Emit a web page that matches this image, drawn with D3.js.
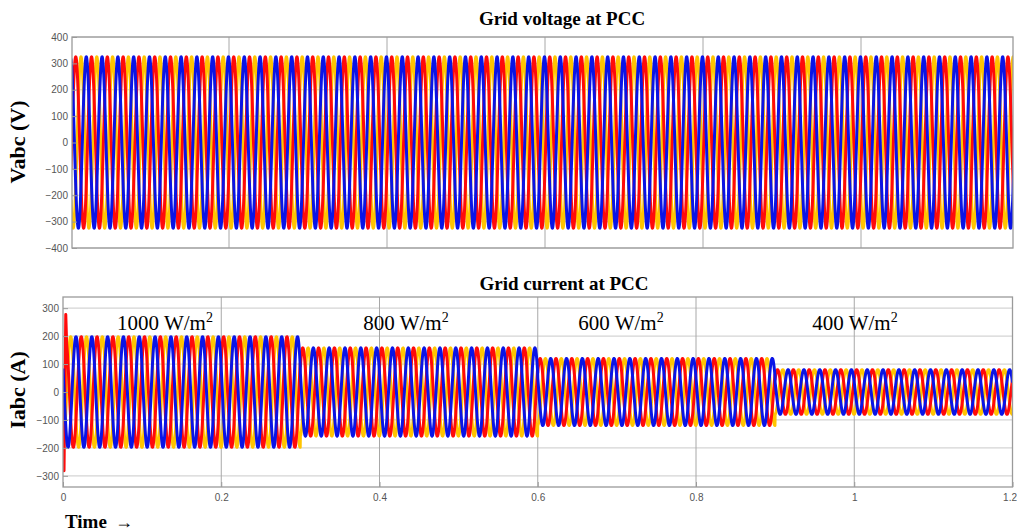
<!DOCTYPE html>
<html>
<head>
<meta charset="utf-8">
<script src="https://cdn.jsdelivr.net/npm/d3@7"></script>
<style>
  html, body { margin: 0; padding: 0; background: #fff; }
  svg { display: block; }
  .tick text { font-family: Arial, "Liberation Sans", sans-serif; font-size: 10px; fill: #555; }
</style>
</head>
<body>
<svg id="chart" width="1017" height="531"></svg>
<script>
// ---------------- data ----------------
const timeTicks = [0, 0.2, 0.4, 0.6, 0.8, 1, 1.2];
const timeTickLabels = ["0", "0.2", "0.4", "0.6", "0.8", "1", "1.2"];
const voltageTicks = [-400, -300, -200, -100, 0, 100, 200, 300, 400];
const currentTicks = [-300, -200, -100, 0, 100, 200, 300];
const phaseNames = ["a", "b", "c"];
const phaseColors = ["#ff0a0a", "#ffc400", "#0a14e6"];
const gridFrequencyHz = 50;
const voltagePeak = 325;              // V
const voltagePhaseDeg = [-18, 222, 102];
const currentPhaseDeg = [35, 275, 155];
const irradianceLevels = [1000, 800, 600, 400];   // W/m^2
const stepStartTimes = [0, 0.3, 0.6, 0.9];
const currentPeaks = [198, 158, 120, 80];         // A, per irradiance level
const redStartTransient = [[0, -150], [0.0013, -282], [0.0035, 277]];
const transientEnd = 0.0045;
const simEnd = 1.2;
const sampleStep = 0.0002;

(function () {
// ---------------- layout ----------------
const svg = d3.select("#chart");
const topBox = { x0: 72, x1: 1013, y0: 37, y1: 248 };
const botBox = { x0: 63, x1: 1012.5, y0: 297, y1: 487 };

const xTop = d3.scaleLinear().domain([0, 1.2]).range([71, 1019]);
const yTop = d3.scaleLinear().domain([-400, 400]).range([topBox.y1, topBox.y0]);
const xBot = d3.scaleLinear().domain([0, 1.2]).range([botBox.x0, botBox.x1]);
const yBot = d3.scaleLinear().domain([-340, 340]).range([botBox.y1, botBox.y0]);

const times = d3.range(0, simEnd + 1e-9, sampleStep);
const w = 2 * Math.PI * gridFrequencyHz;
const rad = d => d * Math.PI / 180;

function ampAt(t) {
  let i = d3.bisectRight(stepStartTimes, t) - 1;
  return currentPeaks[Math.max(0, i)];
}

const voltageSeries = phaseNames.map((p, k) =>
  times.map(t => [t, voltagePeak * Math.sin(w * t + rad(voltagePhaseDeg[k]))]));

const currentSeries = phaseNames.map((p, k) => {
  let pts = times.map(t => [t, ampAt(t) * Math.sin(w * t + rad(currentPhaseDeg[k]))]);
  if (k === 0) {
    pts = redStartTransient.concat(pts.filter(d => d[0] >= transientEnd));
  }
  return pts;
});

// ---------------- panel drawing ----------------
function panel(box, x, y, yTicks, series, showX, clipId) {
  const g = svg.append("g");
  const xr = box.x1;
  g.append("rect").attr("x", box.x0).attr("y", box.y0)
    .attr("width", xr - box.x0).attr("height", box.y1 - box.y0).attr("fill", "#fff");

  svg.append("clipPath").attr("id", clipId).append("rect")
    .attr("x", box.x0).attr("y", box.y0).attr("width", xr - box.x0).attr("height", box.y1 - box.y0);

  // horizontal grid
  g.append("g").selectAll("line").data(yTicks).join("line")
    .attr("x1", box.x0).attr("x2", xr)
    .attr("y1", d => y(d)).attr("y2", d => y(d))
    .attr("stroke", "#d4d4d4").attr("stroke-width", 1.2);
  // vertical grid
  g.append("g").selectAll("line").data(timeTicks.filter(t => t > 0 && x(t) < xr - 2)).join("line")
    .attr("x1", d => x(d)).attr("x2", d => x(d))
    .attr("y1", box.y0).attr("y2", box.y1)
    .attr("stroke", "#a8a8a8").attr("stroke-width", 1);

  // waveforms: yellow, red, blue (blue on top)
  const line = d3.line().x(d => x(d[0])).y(d => y(d[1]));
  const order = [1, 0, 2];
  const wg = g.append("g").attr("clip-path", `url(#${clipId})`);
  order.forEach(k => {
    wg.append("path").datum(series[k])
      .attr("d", line).attr("fill", "none")
      .attr("stroke", phaseColors[k]).attr("stroke-width", 3)
      .attr("stroke-linejoin", "round");
  });

  // frame
  g.append("rect").attr("x", box.x0).attr("y", box.y0)
    .attr("width", xr - box.x0).attr("height", box.y1 - box.y0)
    .attr("fill", "none").attr("stroke", "#9a9a9a").attr("stroke-width", 1.3);

  // y axis
  const ya = g.append("g").attr("transform", `translate(${box.x0},0)`)
    .call(d3.axisLeft(y).tickValues(yTicks).tickSize(-5).tickPadding(4).tickFormat(d3.format("d")));
  ya.select(".domain").remove();
  ya.selectAll(".tick line").attr("stroke", "#9a9a9a");

  if (showX) {
    const xa = g.append("g").attr("transform", `translate(0,${box.y1})`)
      .call(d3.axisBottom(x).tickValues(timeTicks).tickSize(-5).tickPadding(7)
        .tickFormat((d, i) => timeTickLabels[i]));
    xa.select(".domain").remove();
    xa.selectAll(".tick line").attr("stroke", "#9a9a9a");
    xa.selectAll(".tick text").filter(d => d === timeTicks[timeTicks.length - 1])
      .attr("text-anchor", "end").attr("dx", 4);
  }
  return g;
}

panel(topBox, xTop, yTop, voltageTicks, voltageSeries, false, "clipTop");
panel(botBox, xBot, yBot, currentTicks, currentSeries, true, "clipBot");

// ---------------- texts ----------------
const serif = "'Liberation Serif', 'Times New Roman', serif";
svg.append("text").attr("x", 562).attr("y", 25).attr("text-anchor", "middle")
  .attr("font-family", serif).attr("font-weight", "bold").attr("font-size", 19)
  .text("Grid voltage at PCC");
svg.append("text").attr("x", 564).attr("y", 290).attr("text-anchor", "middle")
  .attr("font-family", serif).attr("font-weight", "bold").attr("font-size", 19)
  .text("Grid current at PCC");

svg.append("text").attr("transform", "translate(25,142) rotate(-90)").attr("text-anchor", "middle")
  .attr("font-family", serif).attr("font-weight", "bold").attr("font-size", 22)
  .text("Vabc (V)");
svg.append("text").attr("transform", "translate(25,390) rotate(-90)").attr("text-anchor", "middle")
  .attr("font-family", serif).attr("font-weight", "bold").attr("font-size", 22)
  .text("Iabc (A)");

const tl = svg.append("text").attr("x", 65).attr("y", 528)
  .attr("font-family", serif).attr("font-weight", "bold").attr("font-size", 19);
tl.append("tspan").text("Time");
tl.append("tspan").attr("dx", 8).attr("font-weight", "normal").attr("font-size", 18).text("\u2192");

const labelCenters = [165, 406, 621, 855];
irradianceLevels.forEach((v, i) => {
  const t = svg.append("text").attr("x", labelCenters[i]).attr("y", 330)
    .attr("text-anchor", "middle").attr("font-family", serif).attr("font-size", 21);
  t.append("tspan").text(v + " W/m");
  t.append("tspan").attr("dy", -8).attr("font-size", 14).text("2");
});
})();
</script>
</body>
</html>
